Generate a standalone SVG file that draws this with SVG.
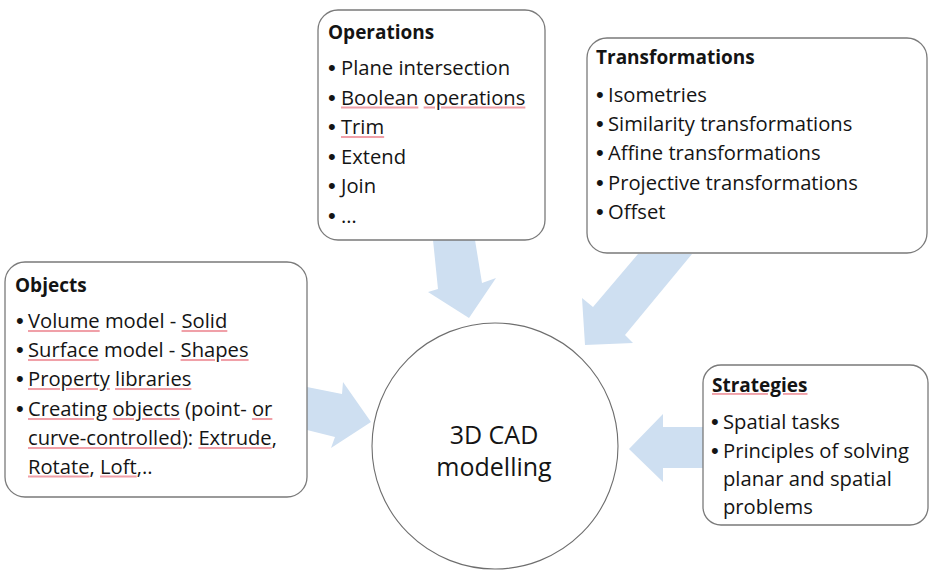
<svg xmlns="http://www.w3.org/2000/svg" width="929" height="570" viewBox="0 0 929 570">
  <style>
    .box { fill: #ffffff; stroke: #7a7a7a; stroke-width: 1.3; }
    .hub { fill: #ffffff; stroke: #6e6e6e; stroke-width: 1.1; }
    .flow { fill: #cedff1; stroke: none; }
    text { font-family: "Open Sans", "Noto Sans", "Liberation Sans", sans-serif; fill: #141414; }
    .title { font-size: 19px; font-weight: bold; }
    .item { font-size: 20.2px; }
    .dot { font-family: "Liberation Sans", Arial, sans-serif; font-size: 22px; }
    .center { font-size: 25px; }
    /* spell-check marks: the underline takes the pink fill of the outer span */
    .sp { text-decoration: underline; fill: #f0a0a8; }
    .sp > tspan { fill: #141414; }
  </style>

  <!-- broad arrows feeding the hub -->
  <g id="connectors">
    <polygon class="flow" points="433,240 438,289 428,292 469,318 496,278 482,283 475,240"/>
    <polygon class="flow" points="638,254 593,307 582,298 585,345 633,343 625,335 692,254"/>
    <polygon class="flow" points="307,387 342,394 343,382 371,422 331,448 335,437 307,430"/>
    <polygon class="flow" points="703,427 663,427 663,414 629,449 663,482 663,468 703,468"/>
  </g>

  <g id="hub">
    <circle class="hub" cx="495" cy="446" r="123"/>
    <text class="center" x="494" y="444" text-anchor="middle">3D CAD</text>
    <text class="center" x="494" y="476" text-anchor="middle">modelling</text>
  </g>

  <g id="operations">
    <rect class="box" x="318" y="10" width="227" height="230" rx="20"/>
    <text class="title" x="328" y="39">Operations</text>
    <text class="item" x="328" y="75"><tspan class="dot">•</tspan><tspan x="341">Plane intersection</tspan></text>
    <text class="item" x="328" y="104.5"><tspan class="dot">•</tspan><tspan x="341" class="sp"><tspan>Boolean</tspan></tspan> <tspan class="sp"><tspan>operations</tspan></tspan></text>
    <text class="item" x="328" y="134"><tspan class="dot">•</tspan><tspan x="341" class="sp"><tspan>Trim</tspan></tspan></text>
    <text class="item" x="328" y="163.5"><tspan class="dot">•</tspan><tspan x="341">Extend</tspan></text>
    <text class="item" x="328" y="193"><tspan class="dot">•</tspan><tspan x="341">Join</tspan></text>
    <text class="item" x="328" y="222.5"><tspan class="dot">•</tspan><tspan x="341">…</tspan></text>
  </g>

  <g id="transformations">
    <rect class="box" x="587" y="38" width="340" height="215" rx="20"/>
    <text class="title" x="596" y="64">Transformations</text>
    <text class="item" x="596" y="102"><tspan class="dot">•</tspan><tspan x="608">Isometries</tspan></text>
    <text class="item" x="596" y="131"><tspan class="dot">•</tspan><tspan x="608">Similarity transformations</tspan></text>
    <text class="item" x="596" y="160"><tspan class="dot">•</tspan><tspan x="608">Affine transformations</tspan></text>
    <text class="item" x="596" y="189.5"><tspan class="dot">•</tspan><tspan x="608">Projective transformations</tspan></text>
    <text class="item" x="596" y="219"><tspan class="dot">•</tspan><tspan x="608">Offset</tspan></text>
  </g>

  <g id="objects">
    <rect class="box" x="5" y="262" width="302" height="235" rx="20"/>
    <text class="title" x="15" y="292">Objects</text>
    <text class="item" x="16" y="328"><tspan class="dot">•</tspan><tspan x="28" class="sp"><tspan>Volume</tspan></tspan> model - <tspan class="sp"><tspan>Solid</tspan></tspan></text>
    <text class="item" x="16" y="357"><tspan class="dot">•</tspan><tspan x="28" class="sp"><tspan>Surface</tspan></tspan> model - <tspan class="sp"><tspan>Shapes</tspan></tspan></text>
    <text class="item" x="16" y="386"><tspan class="dot">•</tspan><tspan x="28" class="sp"><tspan>Property</tspan></tspan> <tspan class="sp"><tspan>libraries</tspan></tspan></text>
    <text class="item" x="16" y="416"><tspan class="dot">•</tspan><tspan x="28" class="sp"><tspan>Creating</tspan></tspan> <tspan class="sp"><tspan>objects</tspan></tspan> (point- <tspan class="sp"><tspan>or</tspan></tspan></text>
    <text class="item" x="28" y="445"><tspan class="sp"><tspan>curve-controlled</tspan></tspan>): <tspan class="sp"><tspan>Extrude</tspan></tspan>,</text>
    <text class="item" x="28" y="473.5"><tspan class="sp"><tspan>Rotate</tspan></tspan>, <tspan class="sp"><tspan>Loft</tspan></tspan>,..</text>
  </g>

  <g id="strategies">
    <rect class="box" x="703" y="365" width="225" height="160" rx="18"/>
    <text class="title" x="712" y="392"><tspan class="sp"><tspan>Strategies</tspan></tspan></text>
    <text class="item" x="711" y="429"><tspan class="dot">•</tspan><tspan x="723">Spatial tasks</tspan></text>
    <text class="item" x="711" y="458"><tspan class="dot">•</tspan><tspan x="723">Principles of solving</tspan></text>
    <text class="item" x="723" y="486">planar and spatial</text>
    <text class="item" x="723" y="514">problems</text>
  </g>
</svg>
